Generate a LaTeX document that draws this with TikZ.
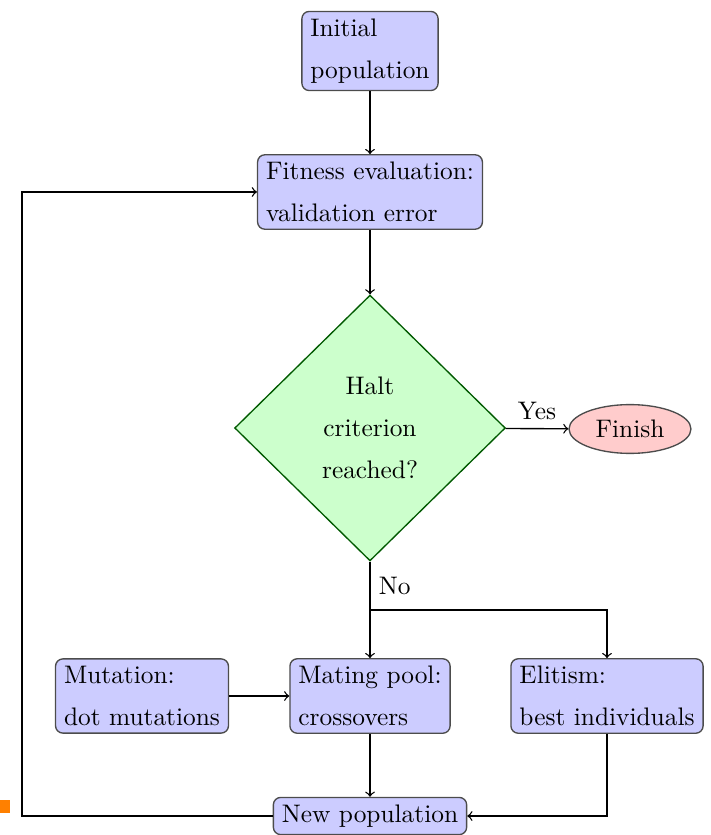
\documentclass[tikz,border=0pt]{standalone}
\usepackage[dvipsnames]{xcolor}
\usepackage{tikz}
\usetikzlibrary{shapes.geometric}

\begin{document}
\begin{tikzpicture}[x=0.41pt,y=-0.41pt,line width=0.55pt,
    every node/.style={font=\fontsize{10.4}{12.5}\selectfont},
    block/.style={draw=black!70,fill=blue!20,rounded corners=3pt,align=left,
        inner xsep=3.5pt,inner ysep=3pt,font=\fontsize{10.4}{17.2}\selectfont},
    decision/.style={diamond,draw=green!35!black,fill=green!20,minimum width=111pt,
        minimum height=109pt,inner sep=0pt,align=center,font=\fontsize{10.4}{17.2}\selectfont},
    stopnode/.style={ellipse,draw=black!70,fill=red!20,minimum width=50pt,
        minimum height=20pt,inner sep=0pt}]
        \useasboundingbox (0,0) rectangle (710,835);

        % Main column
        \node[block] (init) at (370,51) {Initial\\population};
        \node[block] (fitness) at (370,192) {Fitness evaluation:\\validation error};
        \node[decision] (halt) at (370,428) {Halt\\criterion\\reached?};
        \node[stopnode] (finish) at (630,429) {Finish};

        % Operators
        \node[block] (mutation) at (142,696) {Mutation:\\dot mutations};
        \node[block] (mating) at (370,696) {Mating pool:\\crossovers};
        \node[block] (elitism) at (607,696) {Elitism:\\best individuals};
        \node[block] (newpop) at (370,816) {New population};

        % Connectors
        \coordinate (split) at (370,610);
        \coordinate (back) at (22,816);
        \draw[->] (init) -- (fitness);
        \draw[->] (fitness) -- (halt);
        \draw[->] (halt) -- node[above] {Yes} (finish);
        \draw (halt) -- node[right] {No} (split);
        \draw[->] (split) -- (mating);
        \draw[->] (split) -| (elitism);
        \draw[->] (mutation) -- (mating);
        \draw[->] (mating) -- (newpop);
        \draw[->] (elitism) |- (newpop);
        \draw[->] (newpop) -- (back) |- (fitness);

        % Orange mark
        \fill[orange] (0,800) rectangle (10,813);
    \end{tikzpicture}
\end{document}
